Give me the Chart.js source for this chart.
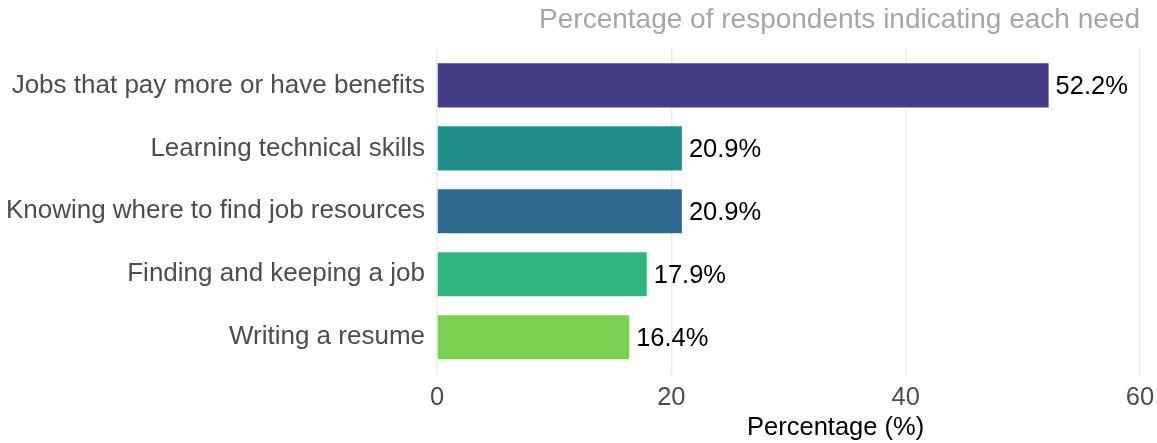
<!DOCTYPE html>
<html>
<head>
<meta charset="utf-8">
<script src="https://cdn.jsdelivr.net/npm/chart.js@4/dist/chart.umd.min.js"></script>
<style>
    html, body { margin: 0; padding: 0; background: #ffffff; }
    #wrap { width: 1157px; height: 443px; }
</style>
</head>
<body>
<div id="wrap"><canvas id="needsChart"></canvas></div>
<script>
// === Данные ===
const needs = [
    'Jobs that pay more or have benefits',
    'Learning technical skills',
    'Knowing where to find job resources',
    'Finding and keeping a job',
    'Writing a resume'
];
const percents = [52.2, 20.9, 20.9, 17.9, 16.4];
const barColors = ['#433e85', '#21908d', '#2f6b8e', '#2fb47c', '#7ad151'];
const xTicks = [0, 20, 40, 60];

const FONT = '"Liberation Sans", Arial, sans-serif';

// подписи значений справа от столбцов + подпись оси X
const valueLabels = {
    id: 'valueLabels',
    afterDatasetsDraw(chart) {
        const ctx = chart.ctx;
        const meta = chart.getDatasetMeta(0);
        ctx.save();
        ctx.font = '25.5px ' + FONT;
        ctx.fillStyle = '#000000';
        ctx.textAlign = 'left';
        ctx.textBaseline = 'middle';
        meta.data.forEach((bar, i) => {
            ctx.fillText(percents[i].toFixed(1) + '%', bar.x + 7, bar.y + 2);
        });

        // заголовок оси смещён вправо от центра панели
        const area = chart.chartArea;
        ctx.textAlign = 'center';
        ctx.fillText('Percentage (%)', area.left + (area.right - area.left) * 0.567, 428);
        ctx.restore();
    }
};

const ctx = document.getElementById('needsChart').getContext('2d');
new Chart(ctx, {
    type: 'bar',
    data: {
        datasets: [{
            data: percents.map((v, i) => ({ x: v, y: i })),
            backgroundColor: barColors,
            borderWidth: 0,
            categoryPercentage: 0.7,
            barPercentage: 1.0
        }]
    },
    options: {
        indexAxis: 'y',
        responsive: true,
        maintainAspectRatio: false,
        animation: false,
        layout: { padding: { left: 0, right: 17, top: 0, bottom: 0 } },
        scales: {
            x: {
                type: 'linear',
                min: 0,
                max: 60,
                afterBuildTicks: scale => { scale.ticks = xTicks.map(v => ({ value: v })); },
                afterFit: scale => {
                    scale.height = 68;
                    scale.paddingLeft = 0;
                    scale.paddingRight = 0;
                },
                grid: { color: '#ebebeb', lineWidth: 1.5, drawTicks: false },
                border: { display: false },
                ticks: {
                    color: '#4d4d4d',
                    padding: 8,
                    font: { family: FONT, size: 25.5 }
                }
            },
            y: {
                type: 'linear',
                reverse: true,
                offset: false,
                min: -0.6,
                max: needs.length - 0.4,
                afterBuildTicks: scale => { scale.ticks = needs.map((n, i) => ({ value: i })); },
                afterFit: scale => { scale.width = 437; },
                grid: { display: false, drawTicks: false },
                border: { display: false },
                ticks: {
                    color: '#4d4d4d',
                    padding: 12,
                    font: { family: FONT, size: 26 },
                    callback: v => needs[v]
                }
            }
        },
        plugins: {
            legend: { display: false },
            tooltip: { enabled: false },
            title: {
                display: true,
                text: 'Percentage of respondents indicating each need',
                align: 'end',
                color: '#a6a6a6',
                padding: { top: 3, bottom: 11 },
                font: { family: FONT, size: 28, weight: 'normal' }
            }
        }
    },
    plugins: [valueLabels]
});
</script>
</body>
</html>
